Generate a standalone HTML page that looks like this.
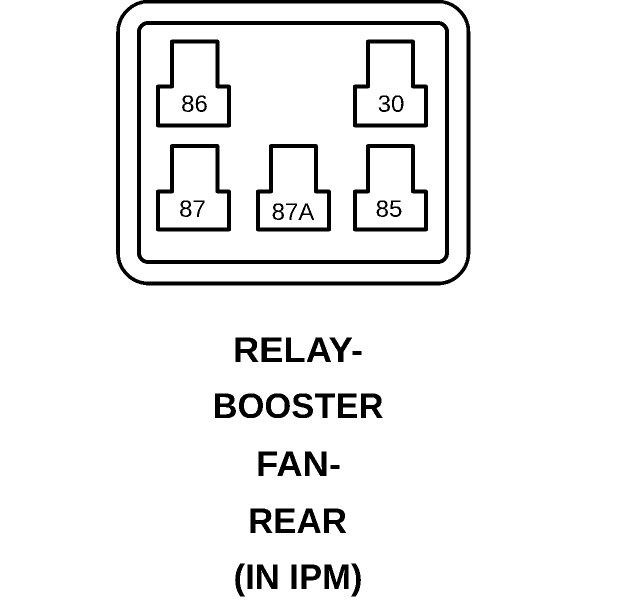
<!DOCTYPE html>
<html>
<head>
<meta charset="utf-8">
<style>
html,body{margin:0;padding:0;background:#fff;width:624px;height:600px;overflow:hidden}
svg{display:block}
text{font-family:"Liberation Sans",Arial,sans-serif;fill:#000;text-anchor:middle}
.n{font-size:24px}
.t{font-size:35px;font-weight:bold}
</style>
</head>
<body>
<svg width="624" height="600" viewBox="0 0 624 600" xmlns="http://www.w3.org/2000/svg">
<defs>
<filter id="bw" x="0" y="0" width="100%" height="100%" color-interpolation-filters="sRGB">
<feComponentTransfer>
<feFuncR type="discrete" tableValues="0 0 1 1"/>
<feFuncG type="discrete" tableValues="0 0 1 1"/>
<feFuncB type="discrete" tableValues="0 0 1 1"/>
</feComponentTransfer>
</filter>
</defs>
<g filter="url(#bw)">
<rect width="624" height="600" fill="#fff"/>
<g fill="none" stroke="#000" stroke-linejoin="round">
<rect x="118" y="1.500" width="350.500" height="282" rx="31" ry="31" stroke-width="3.600"/>
<rect x="139" y="23" width="308" height="239" rx="9" ry="9" stroke-width="4"/>
<g stroke-width="3.800">
<path d="M172 41.500H217.500V86.500H229V125.500H158V86.500H172Z"/>
<path d="M368 41.500H413V86.500H426V125.500H355V86.500H368Z"/>
<path d="M172 146H217.500V191.500H229V229.500H158V191.500H172Z"/>
<path d="M271 146H316V191.500H329V229.500H258V191.500H271Z"/>
<path d="M368 146H413V191.500H426V229.500H355V191.500H368Z"/>
</g>
</g>
<text class="n" x="194.500" y="112">86</text>
<text class="n" x="391" y="112">30</text>
<text class="n" x="192.500" y="217">87</text>
<text class="n" x="293" y="220">87A</text>
<text class="n" x="389" y="217">85</text>
<text class="t" x="298" y="362" textLength="130" lengthAdjust="spacingAndGlyphs">RELAY-</text>
<text class="t" x="298" y="418" textLength="171" lengthAdjust="spacingAndGlyphs">BOOSTER</text>
<text class="t" x="298.500" y="476" textLength="85" lengthAdjust="spacingAndGlyphs">FAN-</text>
<text class="t" x="297.500" y="533" textLength="99" lengthAdjust="spacingAndGlyphs">REAR</text>
<text class="t" x="298" y="589" textLength="129" lengthAdjust="spacingAndGlyphs">(IN IPM)</text>
</g>
</svg>
</body>
</html>
